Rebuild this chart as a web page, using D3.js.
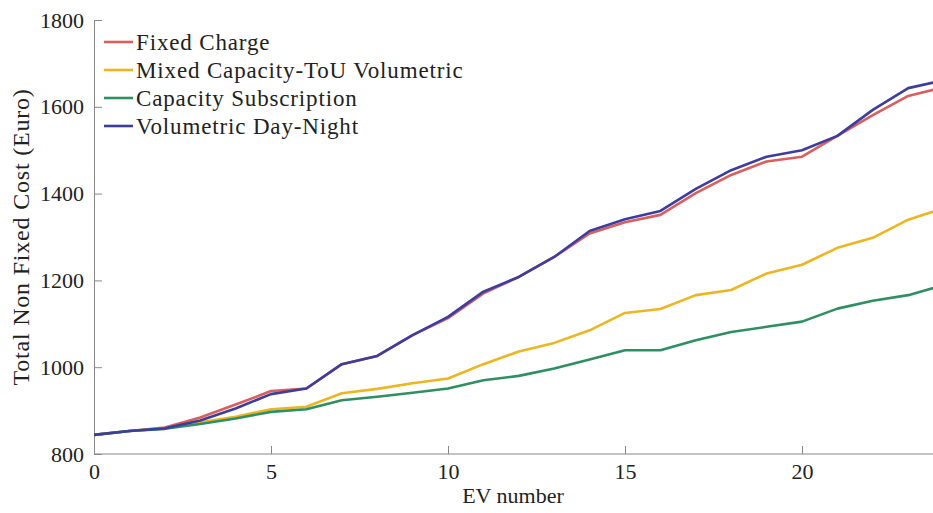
<!DOCTYPE html>
<meta charset="utf-8">
<script src="https://cdn.jsdelivr.net/npm/d3@7"></script>
<style>
body { margin: 0; background: #fff; }
text { font-family: "Liberation Serif", "DejaVu Serif", serif; fill: #222; }
.axis path, .axis line { stroke: #888; }
</style>
<body>
<script>

let width = 933,
    height = 513;

let evNumber = d3.range(0, 25);
let fixedCharge  = [844, 853, 861, 884, 914, 945, 951, 1007, 1026, 1074, 1113, 1170, 1208, 1254, 1308, 1334, 1351, 1401, 1443, 1474, 1485, 1533, 1581, 1625, 1645];
let mixedToU     = [844, 853, 859, 873, 886, 903, 909, 940, 950, 963, 974, 1007, 1036, 1056, 1085, 1125, 1134, 1166, 1178, 1216, 1236, 1275, 1298, 1340, 1366];
let capacitySub  = [844, 853, 858, 869, 882, 897, 903, 924, 932, 941, 951, 970, 980, 997, 1018, 1039, 1039, 1062, 1081, 1093, 1105, 1135, 1153, 1166, 1189];
let volumetricDN = [844, 853, 859, 877, 905, 938, 951, 1007, 1026, 1074, 1116, 1174, 1208, 1254, 1314, 1341, 1360, 1411, 1454, 1485, 1500, 1533, 1593, 1643, 1661];

let xTicks = [0, 5, 10, 15, 20];
let yTicks = [800, 1000, 1200, 1400, 1600, 1800];

let series = [
  {name: "Fixed Charge", values: fixedCharge, color: "#d95f5f"},
  {name: "Mixed Capacity-ToU Volumetric", values: mixedToU, color: "#ecb622"},
  {name: "Capacity Subscription", values: capacitySub, color: "#2f8f62"},
  {name: "Volumetric Day-Night", values: volumetricDN, color: "#3d3d9e"}
];

let svg = d3.select("body").append("svg")
    .attr("width", width)
    .attr("height", height);

let x = d3.scaleLinear().domain([0, 24]).range([94, 943.6]);
let y = d3.scaleLinear().domain([800, 1800]).range([454, 20]);

// axes (ticks inside, no box)
let xAxis = svg.append("g")
    .attr("class", "axis")
    .attr("transform", "translate(0,454)")
    .call(d3.axisBottom(x).tickValues(xTicks).tickSize(-8).tickPadding(9).tickSizeOuter(0));
xAxis.select(".domain").attr("d", "M94,0H933");
xAxis.selectAll("text").style("font-size", "22px");

let yAxis = svg.append("g")
    .attr("class", "axis")
    .attr("transform", "translate(94,0)")
    .call(d3.axisLeft(y).tickValues(yTicks).tickFormat(d3.format("d")).tickSize(-8).tickPadding(10).tickSizeOuter(0));
yAxis.selectAll("text").style("font-size", "22px");

svg.selectAll(".axis text").attr("fill", "#222");

let line = d3.line()
    .x(function(d, i) { return x(evNumber[i]); })
    .y(function(d) { return y(d); });

svg.append("clipPath").attr("id", "clip")
  .append("rect").attr("x", 94).attr("y", 0).attr("width", width - 94).attr("height", 454);

let plot = svg.append("g").attr("clip-path", "url(#clip)");
plot.selectAll(".series")
    .data(series)
    .enter().append("path")
    .attr("class", "series")
    .attr("fill", "none")
    .attr("stroke", function(d) { return d.color; })
    .attr("stroke-width", 2.6)
    .attr("stroke-linejoin", "round")
    .attr("d", function(d) { return line(d.values); });

// legend
let legend = svg.selectAll(".legend")
    .data(series)
    .enter().append("g")
    .attr("class", "legend")
    .attr("transform", function(d, i) { return "translate(104," + (42 + i * 28) + ")"; });

legend.append("line")
    .attr("x1", 0).attr("x2", 29)
    .attr("stroke", function(d) { return d.color; })
    .attr("stroke-width", 2.6);

legend.append("text")
    .attr("x", 32)
    .attr("dy", "0.35em")
    .style("font-size", "23px")
    .style("letter-spacing", "0.85px")
    .text(function(d) { return d.name; });

svg.append("text")
    .attr("x", 513).attr("y", 503)
    .attr("text-anchor", "middle")
    .style("font-size", "22px")
    .text("EV number");

svg.append("text")
    .attr("transform", "translate(29,237) rotate(-90)")
    .attr("text-anchor", "middle")
    .style("font-size", "24px")
    .style("letter-spacing", "0.8px")
    .text("Total Non Fixed Cost (Euro)");

</script>
